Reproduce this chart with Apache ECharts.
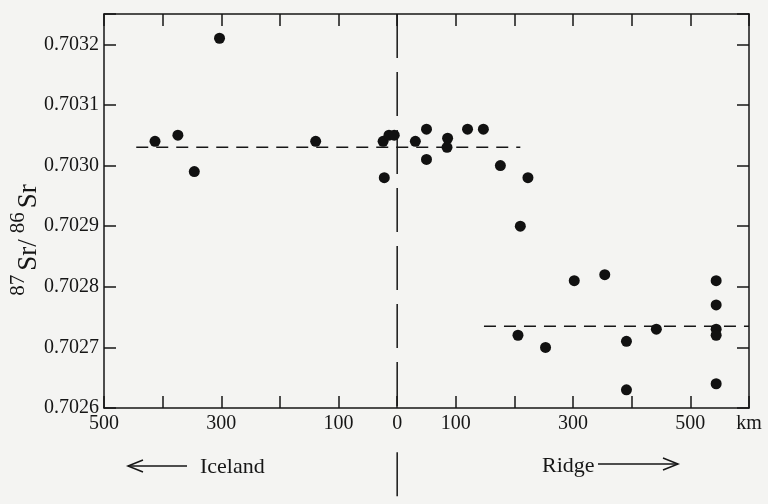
<!DOCTYPE html>
<html>
<head>
<meta charset="utf-8">
<script src="https://cdn.jsdelivr.net/npm/echarts@6/dist/echarts.min.js"></script>
<style>
  html, body { margin: 0; padding: 0; background: #f4f4f2; }
  #chart { width: 768px; height: 504px; }
</style>
</head>
<body>
<div id="chart"></div>
<script>
// distance along the ridge, km (negative = towards Iceland)
const distanceKm = [-413, -374, -346, -303, -139, -24, -22, -14, -5, 31, 50, 50, 86, 85, 120, 147,
  176, 223, 210, 206, 253, 302, 354, 391, 391, 442, 544, 544, 544, 544, 544];
const srRatio = [0.70304, 0.70305, 0.70299, 0.70321, 0.70304, 0.70304, 0.70298, 0.70305, 0.70305,
  0.70304, 0.70306, 0.70301, 0.703045, 0.70303, 0.70306, 0.70306, 0.70300, 0.70298, 0.70290,
  0.70272, 0.70270, 0.70281, 0.70282, 0.70271, 0.70263, 0.70273, 0.70281, 0.70277, 0.70273,
  0.70272, 0.70264];

// dashed mean lines
const icelandMeanKm = [-445, 210];
const icelandMean = 0.70303;
const ridgeMeanKm = [148, 600];
const ridgeMean = 0.702735;

// vertical dashed line at the centre: inside the plot, then again below the "0" label
const centreLineY = [0.70325, 0.7026, '-', 0.702527, 0.702441];

const xTickLabels = { '-500': '500', '-300': '300', '-100': '100', '0': '0', '100': '100', '300': '300', '500': '500', '600': 'km' };

const ink = '#161616';
const serif = 'Liberation Serif';

const points = distanceKm.map((d, i) => [d, srRatio[i]]);

const chart = echarts.init(document.getElementById('chart'));

const axisLine = { onZero: false, lineStyle: { color: ink, width: 1.5 } };
const axisTick = { inside: true, length: 12, lineStyle: { color: ink, width: 1.5 } };

chart.setOption({
  backgroundColor: '#f4f4f2',
  animation: false,
  grid: { left: 104, right: 19, top: 14, bottom: 96 },
  xAxis: [
    {
      type: 'value', min: -500, max: 600, interval: 100, position: 'bottom',
      axisLine, axisTick, splitLine: { show: false },
      axisLabel: {
        margin: 6, color: ink, fontFamily: serif, fontSize: 20,
        formatter: v => xTickLabels[String(Math.round(v))] || ''
      }
    },
    {
      type: 'value', min: -500, max: 600, interval: 100, position: 'top',
      axisLine, axisTick, splitLine: { show: false }, axisLabel: { show: false }
    }
  ],
  yAxis: [
    {
      type: 'value', min: 0.7026, max: 0.70325, interval: 0.0001, position: 'left',
      axisLine, axisTick, splitLine: { show: false },
      axisLabel: {
        margin: 5, color: ink, fontFamily: serif, fontSize: 20,
        formatter: v => {
          const k = v * 10000;
          return Math.abs(Math.round(k) - k) < 1e-4 ? v.toFixed(4) : '';
        }
      }
    },
    {
      type: 'value', min: 0.7026, max: 0.70325, interval: 0.0001, position: 'right',
      axisLine, axisTick, splitLine: { show: false }, axisLabel: { show: false }
    }
  ],
  series: [
    {
      type: 'scatter',
      data: points,
      symbolSize: 11,
      itemStyle: { color: '#111', opacity: 1 },
      z: 5
    },
    {
      type: 'line',
      data: centreLineY.map(y => [0, y]),
      symbol: 'none',
      clip: false,
      connectNulls: false,
      silent: true,
      lineStyle: { color: ink, width: 1.5, type: [44, 14] },
      z: 3
    },
    {
      type: 'line',
      data: icelandMeanKm.map(d => [d, icelandMean]),
      symbol: 'none',
      silent: true,
      lineStyle: { color: ink, width: 1.5, type: [12, 8] },
      z: 3
    },
    {
      type: 'line',
      data: ridgeMeanKm.map(d => [d, ridgeMean]),
      symbol: 'none',
      silent: true,
      lineStyle: { color: ink, width: 1.5, type: [12, 8] },
      z: 3
    }
  ],
  graphic: [
    {
      type: 'text', x: 25, y: 239, rotation: Math.PI / 2,
      style: {
        text: '{n|87}{s|Sr/}{n|86}{s|Sr}',
        align: 'center', verticalAlign: 'middle',
        rich: {
          n: { fontFamily: serif, fontSize: 21, fill: ink, verticalAlign: 'top', padding: [0, 2, 0, 2] },
          s: { fontFamily: serif, fontSize: 27, fill: ink, lineHeight: 34, verticalAlign: 'bottom', padding: [0, 4, 0, 2] }
        }
      }
    },
    // Iceland arrow
    { type: 'line', shape: { x1: 128, y1: 466, x2: 187, y2: 466 }, style: { stroke: ink, lineWidth: 1.5 } },
    { type: 'polyline', shape: { points: [[143, 460], [128, 466], [143, 472]] }, style: { stroke: ink, lineWidth: 1.5, fill: null } },
    { type: 'text', x: 200, y: 467, style: { text: 'Iceland', font: '22px "Liberation Serif"', fill: ink, verticalAlign: 'middle' } },
    // Ridge arrow
    { type: 'text', x: 542, y: 466, style: { text: 'Ridge', font: '22px "Liberation Serif"', fill: ink, verticalAlign: 'middle' } },
    { type: 'line', shape: { x1: 598, y1: 464, x2: 678, y2: 464 }, style: { stroke: ink, lineWidth: 1.5 } },
    { type: 'polyline', shape: { points: [[663, 458], [678, 464], [663, 470]] }, style: { stroke: ink, lineWidth: 1.5, fill: null } }
  ]
});
</script>
</body>
</html>
